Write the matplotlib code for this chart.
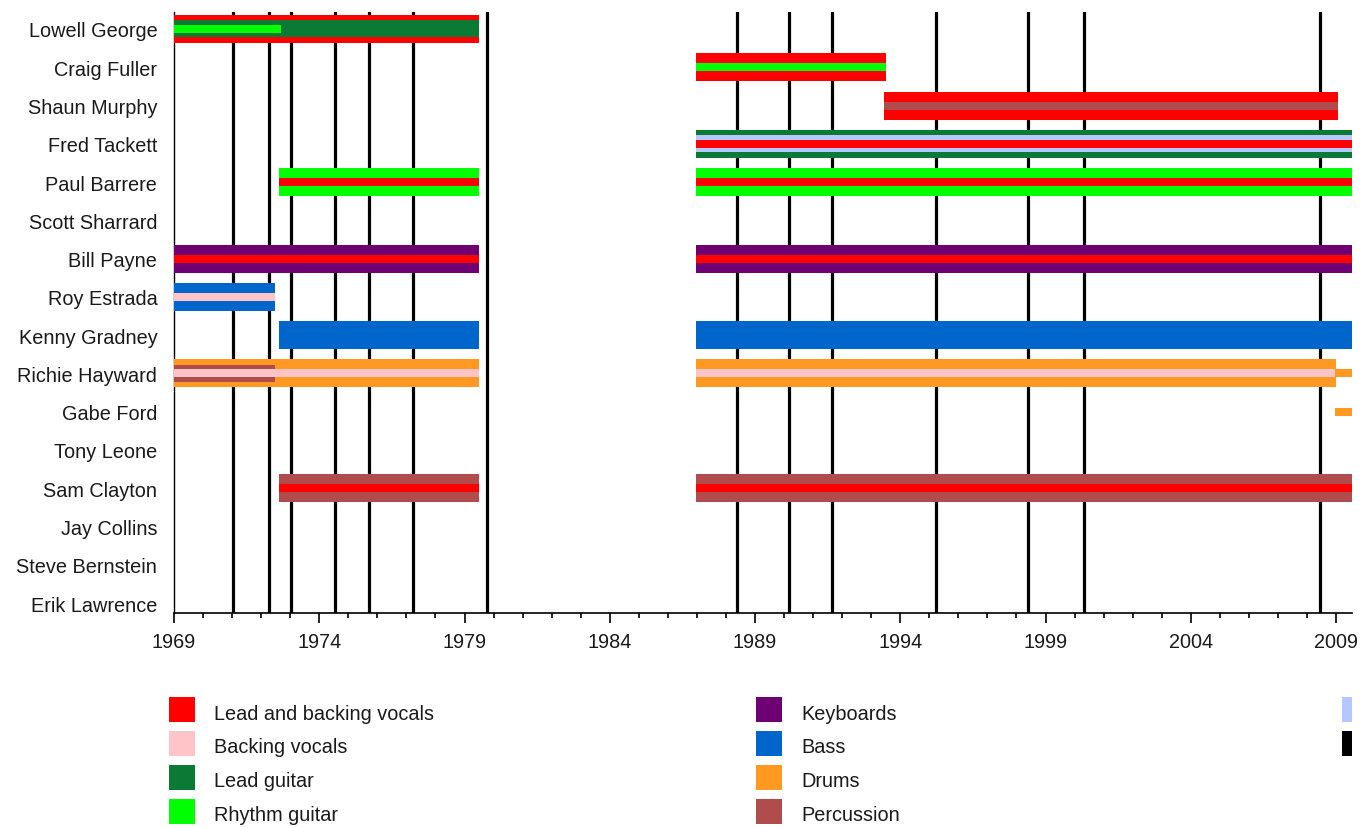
import matplotlib
matplotlib.use("Agg")
import matplotlib.pyplot as plt
from matplotlib.patches import Rectangle
from matplotlib.ticker import MultipleLocator

plt.rcParams['font.family'] = ['Liberation Sans', 'DejaVu Sans']

# ---- data ----
members = ["Lowell George", "Craig Fuller", "Shaun Murphy", "Fred Tackett",
           "Paul Barrere", "Scott Sharrard", "Bill Payne", "Roy Estrada",
           "Kenny Gradney", "Richie Hayward", "Gabe Ford", "Tony Leone",
           "Sam Clayton", "Jay Collins", "Steve Bernstein", "Erik Lawrence"]

roles = ["Lead and backing vocals", "Backing vocals", "Lead guitar", "Rhythm guitar",
         "Keyboards", "Bass", "Drums", "Percussion", "Horns", "Studio albums"]
role_colors = ["#ff0000", "#ffc4c8", "#0a7a34", "#00ff00",
               "#6e0074", "#0066cc", "#ff9922", "#b04c4c", "#b2c8ff", "#000000"]
# the third legend column is cut off at the right edge of the picture
shown_labels = roles[:8]

album_years = [1971.02, 1972.27, 1973.03, 1974.54, 1975.72, 1977.24, 1979.78,
               1988.39, 1990.18, 1991.64, 1995.23, 1998.40, 2000.33, 2008.45]

NOW = 2012
# (member, role, start, end, layer)  layer: outer / mid / narrow
periods = [
    ("Lowell George", "Lead and backing vocals", 1969.0, 1979.5, "outer"),
    ("Lowell George", "Lead guitar", 1969.0, 1979.5, "mid"),
    ("Lowell George", "Rhythm guitar", 1969.0, 1972.67, "narrow"),
    ("Craig Fuller", "Lead and backing vocals", 1986.96, 1993.5, "outer"),
    ("Craig Fuller", "Rhythm guitar", 1986.96, 1993.5, "narrow"),
    ("Shaun Murphy", "Lead and backing vocals", 1993.45, 2009.08, "outer"),
    ("Shaun Murphy", "Percussion", 1993.45, 2009.08, "narrow"),
    ("Fred Tackett", "Lead guitar", 1986.96, NOW, "outer"),
    ("Fred Tackett", "Horns", 1986.96, NOW, "mid"),
    ("Fred Tackett", "Lead and backing vocals", 1986.96, NOW, "narrow"),
    ("Paul Barrere", "Rhythm guitar", 1972.63, 1979.5, "outer"),
    ("Paul Barrere", "Lead and backing vocals", 1972.63, 1979.5, "narrow"),
    ("Paul Barrere", "Rhythm guitar", 1986.96, NOW, "outer"),
    ("Paul Barrere", "Lead and backing vocals", 1986.96, NOW, "narrow"),
    ("Bill Payne", "Keyboards", 1969.0, 1979.5, "outer"),
    ("Bill Payne", "Lead and backing vocals", 1969.0, 1979.5, "narrow"),
    ("Bill Payne", "Keyboards", 1986.96, NOW, "outer"),
    ("Bill Payne", "Lead and backing vocals", 1986.96, NOW, "narrow"),
    ("Roy Estrada", "Bass", 1969.0, 1972.48, "outer"),
    ("Roy Estrada", "Backing vocals", 1969.0, 1972.48, "narrow"),
    ("Kenny Gradney", "Bass", 1972.63, 1979.5, "outer"),
    ("Kenny Gradney", "Bass", 1986.96, NOW, "outer"),
    ("Richie Hayward", "Drums", 1969.0, 1979.5, "outer"),
    ("Richie Hayward", "Percussion", 1969.0, 1972.48, "mid"),
    ("Richie Hayward", "Backing vocals", 1969.0, 1979.5, "narrow"),
    ("Richie Hayward", "Drums", 1986.96, 2009.0, "outer"),
    ("Richie Hayward", "Backing vocals", 1986.96, 2008.95, "narrow"),
    ("Richie Hayward", "Drums", 2009.0, NOW, "narrow"),
    ("Gabe Ford", "Drums", 2008.95, NOW, "narrow"),
    ("Sam Clayton", "Percussion", 1972.63, 1979.5, "outer"),
    ("Sam Clayton", "Lead and backing vocals", 1972.63, 1979.5, "narrow"),
    ("Sam Clayton", "Percussion", 1986.96, NOW, "outer"),
    ("Sam Clayton", "Lead and backing vocals", 1986.96, NOW, "narrow"),
]

# ---- layout ----
W, H = 1367, 829
row_px = 38.27
layer_h = {"outer": 28 / row_px, "mid": 17 / row_px, "narrow": 8 / row_px}
layer_z = {"outer": 3, "mid": 4, "narrow": 5}
color_of = dict(zip(roles, role_colors))
FS = 14.3

fig = plt.figure(figsize=(W / 100, H / 100), dpi=100)
ax = fig.add_axes([174 / W, 215 / H, (1352 - 174) / W, (614 - 13) / H])

for yr in album_years:
    ax.axvline(yr, color="black", lw=2.3, zorder=1)

ypos = {m: i for i, m in enumerate(members)}
for m, role, start, end, layer in periods:
    ax.barh(ypos[m], end - start, left=start, height=layer_h[layer],
            color=color_of[role], zorder=layer_z[layer], linewidth=0)

ax.set_xlim(1969, 1969 + (1352 - 174) / 29.05)
ax.set_ylim(len(members) - 1 + 10 / row_px, -17 / row_px)
ax.set_yticks(range(len(members)))
ax.set_yticklabels(members, fontsize=FS, color="#1a1a1a")
ax.tick_params(axis="y", length=0, pad=12)

ax.xaxis.set_major_locator(MultipleLocator(5, offset=4))
ax.xaxis.set_minor_locator(MultipleLocator(1))
ax.tick_params(axis="x", which="major", length=7, width=1.2, pad=6.5,
               labelsize=FS, labelcolor="#1a1a1a")
ax.tick_params(axis="x", which="minor", length=3.5, width=1.2)

ax.spines["top"].set_visible(False)
ax.spines["right"].set_visible(False)
ax.spines["bottom"].set_linewidth(1.2)
ax.spines["left"].set_linewidth(1.0)

# ---- legend ----
leg_cols = [(169, 214, 26), (756, 801, 26), (1342, None, 10)]
leg_rows = [698, 732, 766, 800]
for k, col in enumerate(role_colors):
    cx, tx, pw = leg_cols[k // 4]
    ry = leg_rows[k % 4]
    fig.add_artist(Rectangle((cx / W, 1 - (ry + 25) / H), pw / W, 25 / H,
                             transform=fig.transFigure, color=col, lw=0))
    if k < len(shown_labels):
        fig.text(tx / W, 1 - (ry + 16) / H, shown_labels[k], fontsize=FS,
                 color="#1a1a1a", va="center", ha="left")

fig.savefig("out.png", dpi=100)
